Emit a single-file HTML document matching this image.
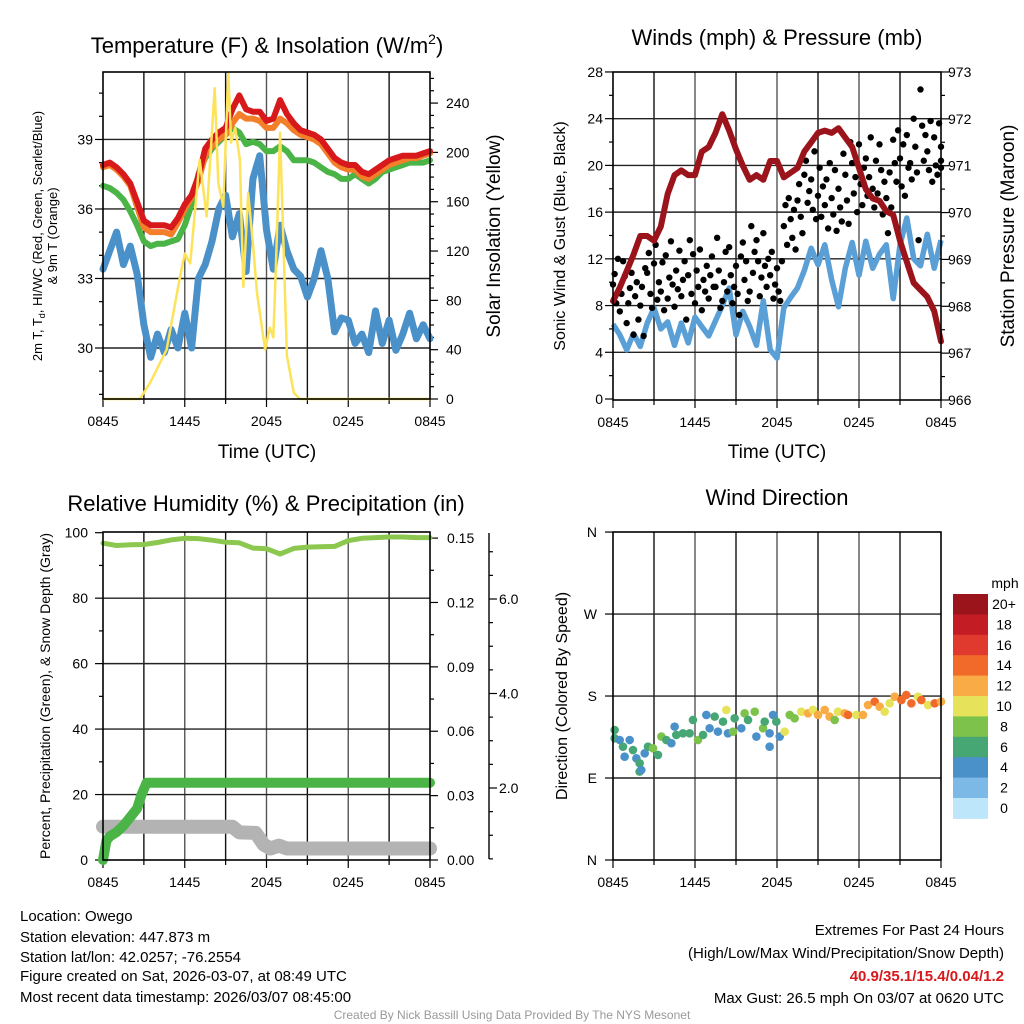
<!DOCTYPE html>
<html><head><meta charset="utf-8">
<style>
html,body{margin:0;padding:0;background:#fff;}
svg{display:block;font-family:"Liberation Sans",Arial,sans-serif;}
</style></head>
<body>
<svg id="chart" xmlns="http://www.w3.org/2000/svg" width="1024" height="1024" viewBox="0 0 1024 1024">
<rect x="0" y="0" width="1024" height="1024" fill="#fff"/>
<text x="267" y="53" font-size="22" text-anchor="middle">Temperature (F) &amp; Insolation (W/m<tspan font-size="14" dy="-9">2</tspan><tspan dy="9">)</tspan></text>
<text x="777" y="45" font-size="22" text-anchor="middle">Winds (mph) &amp; Pressure (mb)</text>
<text x="266" y="511" font-size="22" text-anchor="middle">Relative Humidity (%) &amp; Precipitation (in)</text>
<text x="777" y="505" font-size="22" text-anchor="middle">Wind Direction</text>
<text x="267" y="458" font-size="19" text-anchor="middle">Time (UTC)</text>
<text x="777" y="458" font-size="19" text-anchor="middle">Time (UTC)</text>
<text transform="translate(42,236) rotate(-90)" font-size="13" text-anchor="middle">2m T, T<tspan font-size="9" dy="3">d</tspan><tspan dy="-3">, HI/WC (Red, Green, Scarlet/Blue)</tspan></text>
<text transform="translate(57,236) rotate(-90)" font-size="13" text-anchor="middle">&amp; 9m T (Orange)</text>
<text transform="translate(500,236) rotate(-90)" font-size="19" text-anchor="middle">Solar Insolation (Yellow)</text>
<text transform="translate(565,236) rotate(-90)" font-size="16" text-anchor="middle">Sonic Wind &amp; Gust (Blue, Black)</text>
<text transform="translate(1014,236) rotate(-90)" font-size="19" text-anchor="middle">Station Pressure (Maroon)</text>
<text transform="translate(50,696) rotate(-90)" font-size="14" text-anchor="middle">Percent, Precipitation (Green), &amp; Snow Depth (Gray)</text>
<text transform="translate(567,696) rotate(-90)" font-size="16" text-anchor="middle">Direction (Colored By Speed)</text>
<g font-size="15">
<text x="20" y="921">Location: Owego</text>
<text x="20" y="942">Station elevation: 447.873 m</text>
<text x="20" y="962">Station lat/lon: 42.0257; -76.2554</text>
<text x="20" y="981">Figure created on Sat, 2026-03-07, at 08:49 UTC</text>
<text x="20" y="1002">Most recent data timestamp: 2026/03/07 08:45:00</text>
</g>
<g font-size="15" text-anchor="end">
<text x="1004" y="935">Extremes For Past 24 Hours</text>
<text x="1004" y="958">(High/Low/Max Wind/Precipitation/Snow Depth)</text>
<text x="1004" y="981" fill="#d7191c" font-weight="bold">40.9/35.1/15.4/0.04/1.2</text>
<text x="1004" y="1003">Max Gust: 26.5 mph On 03/07 at 0620 UTC</text>
</g>
<text x="512" y="1019" font-size="12" fill="#999" text-anchor="middle">Created By Nick Bassill Using Data Provided By The NYS Mesonet</text>
</svg>
<script>
// ---------- DATA ----------
const halfHours = [];
for (let i = 0; i <= 48; i++) halfHours.push(i / 2);
const xTickLabels = ["0845", "1445", "2045", "0245", "0845"];
const tempAirRed = [37.9,38.0,37.8,37.5,37.1,36.3,35.5,35.3,35.3,35.3,35.2,35.6,36.2,36.6,37.4,38.6,39.0,39.3,39.5,40.3,40.9,40.3,40.2,40.2,39.8,39.9,40.7,40.1,39.7,39.4,39.3,39.2,39.0,38.6,38.2,38.0,37.9,37.9,37.6,37.5,37.7,37.9,38.1,38.2,38.3,38.3,38.3,38.4,38.5];
const temp9mOrange = [37.8,37.9,37.7,37.4,37.0,36.1,35.2,35.0,35.0,35.0,34.9,35.4,36.0,36.5,37.2,38.3,38.7,39.0,39.2,39.7,40.1,39.9,39.9,39.8,39.5,39.5,39.9,39.7,39.4,39.2,39.1,39.0,38.8,38.4,38.0,37.8,37.7,37.7,37.4,37.3,37.5,37.7,37.9,38.0,38.1,38.2,38.2,38.3,38.4];
const heatIndexGreen = [37.0,36.9,36.7,36.4,35.9,35.3,34.6,34.4,34.5,34.5,34.6,34.7,35.3,36.2,37.5,38.2,38.6,38.9,39.2,39.5,39.3,38.8,38.9,38.8,38.5,38.5,38.7,38.5,38.1,38.1,38.1,38.0,37.8,37.6,37.5,37.3,37.3,37.5,37.3,37.1,37.3,37.6,37.7,37.8,37.9,38.0,38.0,38.0,38.1];
const dewpointBlue = [33.4,34.2,35.0,33.6,34.4,33.2,31.0,29.6,30.6,29.8,30.8,30.0,31.5,30.0,33.0,33.6,34.6,36.0,36.6,34.8,35.8,33.3,37.3,38.3,35.1,33.4,35.3,34.2,33.4,33.1,32.2,33.0,34.2,33.0,30.7,31.3,31.2,30.2,30.6,29.8,31.6,30.2,31.2,29.9,30.6,31.5,30.4,31.0,30.4];
const solarHours = [0,2.7,3.45,4.67,5.65,6.0,6.4,7.1,7.6,8.2,8.46,8.83,9.2,9.4,9.7,10.05,10.3,10.66,11.0,11.3,11.9,12.25,12.5,12.7,13.0,13.2,13.5,14.0,14.45,24];
const solarValues = [0,0,13,40,99,118,110,194,148,252,175,156,265,208,220,194,91,167,126,86,40,58,50,110,216,140,35,5,0,0];
const pressureValues = [968.11,968.4,968.75,969.1,969.5,969.5,969.4,969.7,970.4,970.8,970.9,970.8,970.8,971.3,971.4,971.7,972.1,971.75,971.35,971.0,970.7,970.8,970.7,971.1,971.1,970.75,970.85,970.95,971.3,971.5,971.7,971.75,971.7,971.8,971.6,971.4,970.95,970.5,970.3,970.25,970.03,969.95,969.4,968.95,968.5,968.35,968.2,967.9,967.25];
const windSpeedBlue = [6.4,5.5,4.2,5.6,4.5,6.5,7.8,6.0,6.6,4.6,6.5,4.8,7.0,6.2,5.4,6.7,8.0,9.5,5.5,7.5,6.2,4.6,8.4,4.2,3.5,7.8,8.7,9.5,11.0,12.9,11.5,13.2,10.2,7.9,11.2,13.4,10.6,13.5,11.2,12.4,13.2,8.6,13.2,15.5,12.0,11.4,14.1,11.2,13.6];
const gustGroupHours = [0,0.5,1,1.5,2,2.5,3,3.5,4,4.5,5,5.5,6,6.5,7,7.5,8,8.5,9,9.5,10,10.5,11,11.5,12,12.5,13,13.5,14,14.5,15,15.5,16,16.5,17,17.5,18,18.5,19,19.5,20,20.5,21,21.5,22,22.5,23,23.5,24];
const gustGroupValues = [[9.8,10.7,8.2,12.0],[7.5,9.0,11.8,10.5],[6.5,8.2,9.5,10.8],[5.5,8.8,10.0,6.8],[8.0,9.6,5.4,11.2],[10.8,12.5,9.0,7.8],[11.6,13.2,8.5,10.0],[9.2,11.7,7.6,12.3],[8.6,10.4,13.5,9.8],[7.9,11.0,9.4,12.7],[8.8,10.2,11.8,6.8],[10.6,13.6,9.0,12.4],[8.2,11.0,9.6,12.8],[7.6,10.2,9.2,11.4],[8.6,10.6,12.2,9.6],[9.6,13.8,11.0,7.8],[8.4,10.0,12.6,9.2],[13.0,10.6,8.2,9.6],[11.4,9.0,7.2,12.2],[13.4,10.2,11.8,8.4],[9.2,14.8,10.8,12.6],[13.6,11.8,8.8,10.4],[14.2,11.4,9.6,12.0],[10.6,12.6,8.6,9.8],[11.2,9.2,8.4,11.8],[14.8,16.6,13.2,17.2],[15.4,13.8,16.2,12.8],[17.0,18.4,15.6,14.2],[19.2,20.4,16.8,17.8],[18.8,16.2,21.2,15.4],[17.4,19.8,15.6,18.2],[16.6,18.8,14.6,20.2],[17.2,15.8,19.6,14.4],[18.0,16.4,15.2,21.0],[19.2,17.0,15.0,22.0],[20.2,17.6,19.0,16.0],[21.8,18.4,16.6,19.8],[20.6,17.4,19.0,22.4],[18.0,16.4,20.4,17.6],[21.8,19.6,15.8,18.6],[17.2,14.2,19.4,16.4],[22.2,20.2,18.6,23.0],[20.6,18.2,21.8,17.4],[22.6,19.8,20.2,18.8],[24.0,21.6,19.4,13.6],[26.5,23.4,20.4,22.6],[21.2,19.6,23.8,18.6],[22.4,20.0,19.2,23.6],[20.4,21.6,19.8]];
const rhHours = [0,1,2,3,4,5,6,7,8,9,10,11,12,13,14,15,16,17,18,19,20,21,22,23,24];
const rhValues = [96.8,96.1,96.3,96.4,97.0,97.8,98.3,98.2,97.7,97.1,96.9,95.3,95.1,93.5,95.2,95.6,95.7,95.8,97.6,98.3,98.5,98.7,98.7,98.5,98.5];
const precipHours = [0,0.25,0.5,1,1.5,2,2.5,2.8,3.2,24];
const precipValues = [0,0.009,0.011,0.013,0.016,0.02,0.024,0.03,0.036,0.036];
const snowHours = [0,9.5,10,11.2,11.8,12.3,12.9,13.5,24];
const snowValues = [1.18,1.18,1.06,1.05,0.8,0.72,0.78,0.72,0.72];
const dirHours = [0.12,0.12,0.49,0.73,0.85,1.22,1.46,1.71,1.95,1.95,2.07,2.32,2.56,2.93,3.29,3.54,3.9,4.27,4.51,4.63,5.12,5.61,5.85,6.22,6.59,6.83,7.07,7.44,7.68,8.05,8.29,8.41,8.78,8.9,9.39,9.63,9.88,10.37,10.49,10.98,11.1,11.46,11.46,11.71,11.95,12.2,12.56,12.93,13.29,13.78,14.27,14.63,15.0,15.49,15.85,16.22,16.46,16.95,17.2,17.8,18.29,18.66,19.15,19.51,19.88,20.24,20.61,21.1,21.46,21.83,22.32,22.56,23.05,23.54,24.0];
const dirValues = [142.7,133.6,131.7,124.4,113.4,131.7,120.7,111.6,106.1,97,98.8,117.1,124.4,122.6,115.3,135.5,131.7,128.2,146.4,137.3,139.1,139.1,153.7,131.7,137.3,159.2,144.6,157.4,140.9,151.9,164.7,139.1,140.9,155.5,144.6,161,153.7,162.8,135.5,144.6,151.9,139.1,124.4,159.2,151.9,135.5,140.9,159.2,155.5,162.8,161,164.7,159.2,164.7,157.4,153.7,162.8,161,159.2,159.2,159.2,170.1,173.8,168.3,162.8,172,179.3,175.6,181.1,172,179.3,175.6,170.1,172,173.8];
const dirSpeeds = [7,7,5,7,5,5,7,5,7,7,5,5,7,9,7,9,7,5,5,7,7,7,7,9,7,5,5,7,5,7,11,5,9,7,5,9,7,9,5,9,7,5,5,5,7,5,11,9,9,11,13,11,13,13,13,9,11,13,15,11,13,13,15,13,11,11,13,15,15,15,11,15,11,15,13];
const speedBinLabels = ["0","2","4","6","8","10","12","14","16","18","20+"];
const speedBinColors = ["#bde6fa","#7cb9e6","#4a90c9","#47a774","#7dc24b","#e6e35a","#f9ab45","#f26a2a","#e03a2e","#c31c25","#9b141b"];

// ---------- HELPERS ----------
const svg = document.getElementById('chart');
const NS = 'http://www.w3.org/2000/svg';
function mk(tag, attrs) {
  const e = document.createElementNS(NS, tag);
  for (const k in attrs) e.setAttribute(k, attrs[k]);
  svg.appendChild(e);
  return e;
}
function pathD(xs, ys, xf, yf) {
  let d = '';
  for (let i = 0; i < xs.length; i++) d += (i ? 'L' : 'M') + xf(xs[i]).toFixed(1) + ',' + yf(ys[i]).toFixed(1);
  return d;
}
function xScale(x0, x1) { return h => x0 + h * (x1 - x0) / 24; }

function frame(x0, y0, x1, y1, name, gridYs) {
  const xf = xScale(x0, x1);
  for (let h = 3; h < 24; h += 3) {
    const g = mk('line', {x1: xf(h), y1: y0, x2: xf(h), y2: y1, stroke: (h % 6 === 0) ? '#555' : '#111', 'stroke-width': 1.4});
    
    
  }
  gridYs.forEach(y => {
    const g = mk('line', {x1: x0, y1: y, x2: x1, y2: y, stroke: '#222', 'stroke-width': 1.4});
    
    
  });
  for (let h = 0; h <= 24; h += 3) {
    const t = mk('line', {x1: xf(h), y1: y1, x2: xf(h), y2: y1 + (h % 6 === 0 ? 8 : 5), stroke: '#000', 'stroke-width': 1.2});
    
    
  }
  xTickLabels.forEach((lab, i) => {
    const t = mk('text', {x: xf(i * 6), y: y1 + 27, 'font-size': 14, 'text-anchor': 'middle'});
    t.textContent = lab;
    
    
  });
  return xf;
}
function border(x0, y0, x1, y1, name) {
  const b = mk('rect', {x: x0, y: y0, width: x1 - x0, height: y1 - y0, fill: 'none', stroke: '#000', 'stroke-width': 1.6});
  
  
}
function yAxis(xLine, side, yf, from, to, step, majorEvery, labelFn, name, labelX, yTop, yBot) {
  const n = Math.round((to - from) / step);
  for (let i = 0; i <= n; i++) {
    const v = from + i * step;
    const y = yf(v);
    if (y < yTop - 0.6 || y > yBot + 0.6) continue;
    const major = (i % majorEvery) === 0;
    const len = major ? 8 : 4;
    const t = mk('line', {x1: xLine, y1: y, x2: xLine + side * len, y2: y, stroke: '#000', 'stroke-width': 1.2});
    
    
    if (major && labelFn) {
      const tx = mk('text', {x: labelX, y: y + 5, 'font-size': 14, 'text-anchor': side < 0 ? 'end' : 'start'});
      tx.textContent = labelFn(v);
      
      
    }
  }
}

// ---------- PANEL 1: TEMPERATURE ----------
(function () {
  const x0 = 103, x1 = 430, y0 = 72, y1 = 399;
  const tY = v => 348 - (v - 30) * 23.17;
  const sY = v => 399 - v * 1.233;
  const xf = frame(x0, y0, x1, y1, 'temp', [tY(30), tY(33), tY(36), tY(39)]);
  yAxis(x0, -1, tY, 27, 42, 1, 3, v => String(v), 'temp-y', 93, y0, y1);
  yAxis(x1, 1, sY, 0, 260, 10, 4, v => String(v), 'solar-y', 446, y0, y1);
  const series = [
    [dewpointBlue, '#4a90c9', 'dewpoint-line', 7],
    [heatIndexGreen, '#4bb446', 'heat-index-line', 6],
    [temp9mOrange, '#f47f2a', 'temp-9m-line', 6],
    [tempAirRed, '#d7191c', 'temp-2m-line', 6]
  ];
  series.forEach(s => {
    const p = mk('path', {d: pathD(halfHours, s[0], xf, tY), fill: 'none', stroke: s[1], 'stroke-width': s[3], 'stroke-linejoin': 'round', 'stroke-linecap': 'round'});
    
    
  });
  const sp = mk('path', {d: pathD(solarHours, solarValues, xf, sY), fill: 'none', stroke: '#fde35a', 'stroke-width': 2.5, 'stroke-linejoin': 'round'});
  
  
  border(x0, y0, x1, y1, 'temp');
})();

// ---------- PANEL 2: WINDS ----------
(function () {
  const x0 = 613, x1 = 941, y0 = 72, y1 = 400;
  const wY = v => 399 - v * 11.68;
  const pY = p => 400 - (p - 966) * 46.86;
  const grid = [];
  for (let v = 4; v < 28; v += 4) grid.push(wY(v));
  const xf = frame(x0, y0, x1, y1, 'winds', grid);
  yAxis(x0, -1, wY, 0, 28, 2, 2, v => String(v), 'wind-y', 603, y0, y1);
  yAxis(x1, 1, pY, 966, 973, 0.5, 2, v => String(v), 'pressure-y', 948, y0, y1);
  const bl = mk('path', {d: pathD(halfHours, windSpeedBlue, xf, wY), fill: 'none', stroke: '#5a9fd6', 'stroke-width': 5.5, 'stroke-linejoin': 'round'});
  
  
  gustGroupHours.forEach((h, gi) => {
    gustGroupValues[gi].forEach((v, j) => {
      const hh = Math.min(24, h + j * 0.12);
      const c = mk('circle', {cx: xf(hh), cy: wY(v), r: 3.2, fill: '#000'});
      
      
    });
  });
  const pl = mk('path', {d: pathD(halfHours, pressureValues, xf, pY), fill: 'none', stroke: '#9b141b', 'stroke-width': 6, 'stroke-linejoin': 'round', 'stroke-linecap': 'round'});
  
  
  border(x0, y0, x1, y1, 'winds');
})();

// ---------- PANEL 3: HUMIDITY ----------
(function () {
  const x0 = 103, x1 = 430, y0 = 532, y1 = 860;
  const rY = v => 860 - v * 3.273;
  const prY = v => 860 - v * 2146;
  const snY = v => 788 - (v - 2) * 47.25;
  const xf = frame(x0, y0, x1, y1, 'humidity', [rY(20), rY(40), rY(60), rY(80)]);
  yAxis(x0, -1, rY, 0, 100, 10, 2, v => String(v), 'humidity-y', 88, y0, y1);
  yAxis(x1, 1, prY, 0, 0.15, 0.015, 2, v => v.toFixed(2), 'precip-y', 447, y0, y1);
  const ax = mk('line', {x1: 489, y1: 533, x2: 489, y2: 859, stroke: '#000', 'stroke-width': 1.4});
  
  
  yAxis(489, 1, snY, 0, 8, 0.5, 4, v => v.toFixed(1), 'snow-y', 499, 533, 859);
  const sn = mk('path', {d: pathD(snowHours, snowValues, xf, snY), fill: 'none', stroke: '#b3b3b3', 'stroke-width': 14, 'stroke-linejoin': 'round', 'stroke-linecap': 'round'});
  
  
  const pr = mk('path', {d: pathD(precipHours, precipValues, xf, prY), fill: 'none', stroke: '#4bb446', 'stroke-width': 10, 'stroke-linejoin': 'round', 'stroke-linecap': 'round'});
  
  
  const rh = mk('path', {d: pathD(rhHours, rhValues, xf, rY), fill: 'none', stroke: '#8cc850', 'stroke-width': 5, 'stroke-linejoin': 'round', 'stroke-linecap': 'round'});
  
  
  border(x0, y0, x1, y1, 'humidity');
})();

// ---------- PANEL 4: WIND DIRECTION ----------
(function () {
  const x0 = 613, x1 = 941, y0 = 532, y1 = 860;
  const dY = d => 860 - d * 0.911;
  const xf = frame(x0, y0, x1, y1, 'direction', [dY(90), dY(180), dY(270)]);
  const dirLabels = ['N', 'E', 'S', 'W', 'N'];
  dirLabels.forEach((lab, i) => {
    const t = mk('line', {x1: x0, y1: dY(i * 90), x2: x0 - 8, y2: dY(i * 90), stroke: '#000', 'stroke-width': 1.2});
    
    
    const tx = mk('text', {x: 597, y: dY(i * 90) + 5, 'font-size': 14, 'text-anchor': 'end'});
    tx.textContent = lab;
    
    
  });
  dirHours.forEach((h, i) => {
    const bin = Math.max(0, Math.min(10, Math.floor(dirSpeeds[i] / 2)));
    const c = mk('circle', {cx: xf(h), cy: dY(dirValues[i]), r: 4.3, fill: speedBinColors[bin]});
    
    
  });
  border(x0, y0, x1, y1, 'direction');
  const top = 594, bh = 20.4;
  const mph = mk('text', {x: 1005, y: 588, 'font-size': 14, 'text-anchor': 'middle'});
  mph.textContent = 'mph';
  
  
  for (let i = 0; i < speedBinLabels.length; i++) {
    const k = speedBinLabels.length - 1 - i;
    const r = mk('rect', {x: 953, y: top + i * bh, width: 35, height: bh + 0.5, fill: speedBinColors[k]});
    
    
    const t = mk('text', {x: 1004, y: top + i * bh + 15, 'font-size': 14, 'text-anchor': 'middle'});
    t.textContent = speedBinLabels[k];
    
    
  }
})();
</script>
</body></html>
